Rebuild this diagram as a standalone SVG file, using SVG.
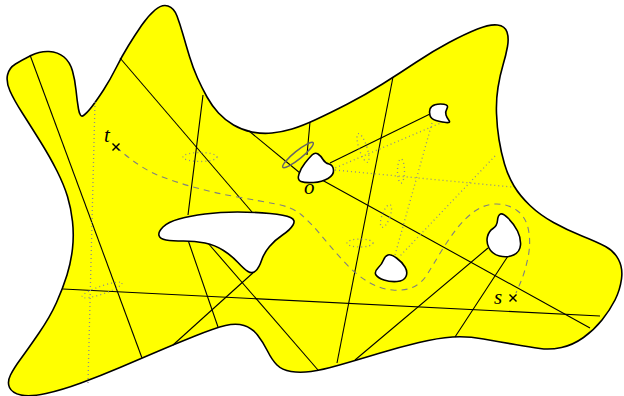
<svg xmlns="http://www.w3.org/2000/svg" width="624" height="396" viewBox="0 0 624 396">
<style>
.region{fill:#ffff00;stroke:#000;stroke-width:1.6;stroke-linejoin:round}
.hole{fill:#fff;stroke:#000;stroke-width:1.6;stroke-linejoin:round}
.ln{stroke:#000;stroke-width:1.1;fill:none}
.dot{stroke:#8c8c8c;stroke-width:1.3;fill:none;stroke-dasharray:1 3}
.dash{stroke:#808080;stroke-width:1.1;fill:none;stroke-dasharray:6 5}
.lbl{font-family:"Liberation Serif",serif;font-style:italic;font-size:21px;fill:#000}
.mk{stroke:#000;stroke-width:1.4}
</style>
<g id="region">
<path class="region" d="M15.5,64 Q22,60 31,55.5 Q40,51 49,51.5 Q58,52 64,57 Q70,62 72.5,71 Q75,80 76,90 Q77,100 78.5,109 Q80,118 83.5,115.5 Q87,113 92,106.5 Q97,100 103.5,90 Q110,80 116,68 Q122,56 128.5,45.5 Q135,35 141.5,25.5 Q148,16 155,10 Q162,4 168,6 Q174,8 177,16 Q180,24 183,34.5 Q186,45 189.5,56.5 Q193,68 197.5,78 Q202,88 207,97 Q212,106 218.5,113 Q225,120 233.5,125 Q242,130 252,132 Q262,134 272,133 Q282,132 292,129 Q302,126 316,119.5 Q330,113 347.5,104 Q365,95 382.5,84 Q400,73 416.5,62 Q433,51 449,42.5 Q465,34 477.5,29 Q490,24 497.5,25 Q505,26 507,32 Q509,38 507.5,46.5 Q506,55 503,65 Q500,75 498,87.5 Q496,100 496.5,113.5 Q497,127 499,139.5 Q501,152 504.5,164 Q508,176 514,186 Q520,196 530,205.5 Q540,215 553.5,222.5 Q567,230 582,236 Q597,242 605.5,246.5 Q614,251 618.5,259.5 Q623,268 621.5,279 Q620,290 615,300 Q610,310 602,320 Q594,330 583.5,337.5 Q573,345 561.5,347.5 Q550,350 540,348.5 Q530,347 515,344.5 Q500,342 483.5,339 Q467,336 452.5,337 Q438,338 419,342.5 Q400,347 378.5,353.5 Q357,360 339.5,365 Q322,370 311,371.5 Q300,373 291,371.5 Q282,370 277,365 Q272,360 267.5,351 Q263,342 257.5,335 Q252,328 244,325.5 Q236,323 225.5,325.5 Q215,328 195,336 Q175,344 157.5,351.5 Q140,359 120,367.5 Q100,376 81,383 Q62,390 46,393.5 Q30,397 21,395 Q12,393 9.5,387.5 Q7,382 10.5,375 Q14,368 21,358.5 Q28,349 39,333 Q50,317 56.5,302.5 Q63,288 67,275 Q71,262 72.5,248.5 Q74,235 72.5,221.5 Q71,208 67.5,196.5 Q64,185 57,171 Q50,157 40,141 Q30,125 22,112.5 Q14,100 10,91 Q6,82 7.5,75 Q9,68 15.5,64 Z"/>
</g>
<g id="connectors">
<g id="segments">
<line class="ln" x1="30" y1="55" x2="142" y2="358"/>
<line class="ln" x1="120" y1="58" x2="252" y2="212"/>
<line class="ln" x1="203" y1="95" x2="188" y2="215"/>
<line class="ln" x1="188" y1="240" x2="218" y2="327"/>
<line class="ln" x1="207" y1="242" x2="318" y2="370"/>
<line class="ln" x1="255" y1="271" x2="173" y2="345"/>
<line class="ln" x1="63" y1="289" x2="600" y2="316"/>
<line class="ln" x1="393" y1="77" x2="337" y2="363"/>
<line class="ln" x1="249" y1="131" x2="300" y2="173"/>
<line class="ln" x1="322" y1="180" x2="590" y2="328"/>
<line class="ln" x1="310" y1="122" x2="307" y2="155"/>
<line class="ln" x1="330" y1="163" x2="432" y2="113"/>
<line class="ln" x1="488" y1="248" x2="355" y2="360"/>
<line class="ln" x1="508" y1="256" x2="455" y2="337"/>
</g>
<g id="dotted">
<line class="dot" x1="95" y1="102" x2="88" y2="383"/>
<line class="dot" x1="443" y1="122" x2="335" y2="168"/>
<line class="dot" x1="335" y1="170" x2="512" y2="187"/>
<line class="dot" x1="432" y1="123" x2="395" y2="255"/>
<line class="dot" x1="495" y1="156" x2="400" y2="256"/>
<ellipse class="dot" cx="200" cy="157" rx="17" ry="4.5"/>
<ellipse class="dot" cx="360" cy="243" rx="13" ry="4"/>
<ellipse class="dot" cx="363" cy="148" rx="4" ry="15" transform="rotate(-18 363 148)"/>
<ellipse class="dot" cx="401" cy="171" rx="3.5" ry="12"/>
<ellipse class="dot" cx="386" cy="216" rx="4" ry="12" transform="rotate(20 386 216)"/>
<ellipse class="dot" cx="102" cy="290" rx="21" ry="4" transform="rotate(-19 102 290)"/>
</g>
<path id="route" class="dash" d="M116,147 Q140,168 157.5,175 Q175,182 195,187.5 Q215,193 237.5,197 Q260,201 276,204 Q292,207 301,214.5 Q310,222 320,234 Q330,246 342.5,260 Q355,274 367.5,281.5 Q380,289 392.5,290 Q405,291 413.5,287 Q422,283 427.5,274 Q433,265 440.5,252.5 Q448,240 456.5,229 Q465,218 475,211 Q485,204 496.5,204 Q508,204 517,210.5 Q526,217 528.5,230 Q531,243 528,257.5 Q525,272 520.5,282.5 L516,293"/>
</g>
<g id="holes">
<path id="hole-big" class="hole" d="M159,235.5 Q158,232 163,227 Q168,222 179,219 Q190,216 205,214 Q220,212 237.5,212 Q255,212 270,213.5 Q285,215 290.5,217.5 Q296,220 293,225 Q290,230 282.5,235 Q275,240 269.5,246.5 Q264,253 261.5,260.5 Q259,268 255.5,271 Q252,274 248,271.5 Q244,269 238,262.5 Q232,256 223.5,250.5 Q215,245 205,243 Q195,241 183.5,241 Q172,241 166,240 Q160,239 159,235.5 Z"/>
<path id="hole-o" class="hole" d="M301,181.5 Q297,180 299,174 Q301,168 305,163 Q309,158 312,155 Q315,152 318,154 Q321,156 323,159.5 Q325,163 329,164 Q333,165 333.5,170 Q334,175 328,178.5 Q322,182 313.5,182.5 Q305,183 301,181.5 Z"/>
<path id="hole-tr" class="hole" d="M430,115.5 Q429,112 430,109 Q431,106 435,104.75 Q439,103.5 444,104.25 Q449,105 447,108.5 Q445,112 446,115 Q447,118 449,120.5 Q451,123 446,122.5 Q441,122 436,120.5 Q431,119 430,115.5 Z"/>
<path id="hole-sm" class="hole" d="M376,275 Q374,272 378,268 Q382,264 383.5,260 Q385,256 388,255 Q391,254 396.5,258 Q402,262 405,267 Q408,272 406,276.5 Q404,281 397,281.5 Q390,282 384,280 Q378,278 376,275 Z"/>
<path id="hole-r" class="hole" d="M489,248 Q486,242 487.5,236.5 Q489,231 493,228.5 Q497,226 497.5,220.5 Q498,215 500.5,214 Q503,213 508.5,218.5 Q514,224 517.5,231 Q521,238 520.5,245 Q520,252 513.5,255 Q507,258 499.5,256 Q492,254 489,248 Z"/>
</g>
<g id="sensor">
<ellipse cx="298" cy="155" rx="19.5" ry="4" transform="rotate(-39 298 155)" fill="none" stroke="#666" stroke-width="1.5"/>
</g>
<g id="node-t">
<line class="mk" x1="112.5" y1="143.5" x2="119.5" y2="150.5"/>
<line class="mk" x1="119.5" y1="143.5" x2="112.5" y2="150.5"/>
<text class="lbl" x="104" y="142">t</text>
</g>
<g id="node-s">
<line class="mk" x1="509.5" y1="294.5" x2="516.5" y2="301.5"/>
<line class="mk" x1="516.5" y1="294.5" x2="509.5" y2="301.5"/>
<text class="lbl" x="494" y="304">s</text>
</g>
<g id="node-o">
<text class="lbl" x="304" y="194">o</text>
</g>
</svg>
